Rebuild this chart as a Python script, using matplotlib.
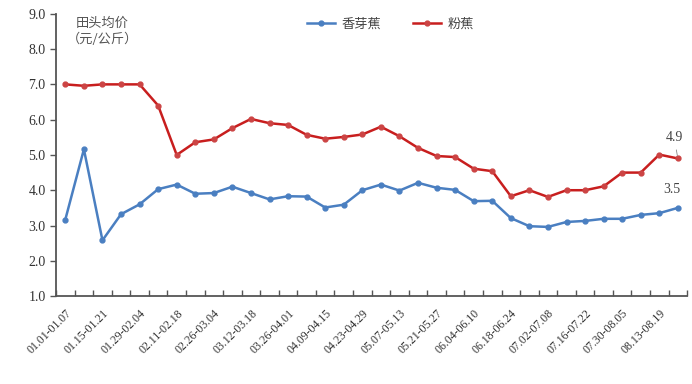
import numpy as np
import matplotlib.pyplot as plt

plt.rcParams['font.family'] = ['Liberation Serif', 'Noto Sans CJK SC']

# 34 weekly points, only every other week is labelled on the axis
week_labels = ['01.01-01.07', '01.15-01.21', '01.29-02.04', '02.11-02.18', '02.26-03.04',
               '03.12-03.18', '03.26-04.01', '04.09-04.15', '04.23-04.29', '05.07-05.13',
               '05.21-05.27', '06.04-06.10', '06.18-06.24', '07.02-07.08', '07.16-07.22',
               '07.30-08.05', '08.13-08.19']

xiangya = [3.17, 5.16, 2.58, 3.32, 3.60, 4.03, 4.16, 3.90, 3.92, 4.10, 3.92, 3.74,
           3.83, 3.82, 3.51, 3.59, 4.00, 4.16, 3.99, 4.21, 4.07, 4.01, 3.69, 3.70,
           3.21, 2.98, 2.96, 3.10, 3.13, 3.19, 3.19, 3.30, 3.35, 3.50]
fenjiao = [7.00, 6.96, 7.00, 7.00, 7.00, 6.40, 5.00, 5.36, 5.44, 5.76, 6.02, 5.90,
           5.85, 5.57, 5.46, 5.51, 5.58, 5.80, 5.53, 5.20, 4.97, 4.94, 4.61, 4.54,
           3.83, 4.00, 3.81, 4.00, 4.00, 4.11, 4.50, 4.50, 5.01, 4.90]

BLUE = '#4a7fc1'
RED = '#c81e1e'

fig = plt.figure(figsize=(6.92, 3.84), dpi=100)
ax = fig.add_axes([0.081, 0.229, 0.912, 0.735])

x = np.arange(len(xiangya))
ax.plot(x, xiangya, color=BLUE, lw=1.8, marker='o', ms=3.5, label='香芽蕉')
ax.plot(x, fenjiao, color=RED, lw=1.8, marker='o', ms=3.5, mfc='#cc4444', mec='#cc4444', label='粉蕉')

ax.set_xlim(-0.5, len(x) - 0.5)
ax.set_ylim(1.0, 9.0)
ax.set_yticks(np.arange(1.0, 9.01, 1.0))
ax.set_yticklabels([f'{v:.1f}' for v in np.arange(1.0, 9.01, 1.0)], fontsize=10, color='#333333')

ax.set_xticks(x[::2])
ax.set_xticklabels(week_labels, rotation=45, ha='right', rotation_mode='anchor',
                   fontsize=8.5, color='#333333')
ax.set_xticks(np.arange(-0.5, len(x), 1.0), minor=True)
ax.tick_params(axis='x', which='major', length=0, pad=8)
ax.tick_params(axis='x', which='minor', length=4, width=1, color='#555555', direction='in')
ax.tick_params(axis='y', length=4, width=1, color='#555555', direction='out')

for s in ['top', 'right']:
    ax.spines[s].set_visible(False)
for s in ['left', 'bottom']:
    ax.spines[s].set_color('#555555')
    ax.spines[s].set_linewidth(1.3)

ax.text(2.0, 8.72, '田头均价', ha='center', va='center', fontsize=9.5, color='#555555',
        family=['Noto Sans CJK SC'])
ax.text(2.0, 8.27, '（元/公斤）', ha='center', va='center', fontsize=9.5, color='#555555',
        family=['Noto Sans CJK SC'])

leg = ax.legend(loc='upper center', bbox_to_anchor=(0.53, 1.03), ncol=2, frameon=False,
                prop={'family': 'Noto Sans CJK SC', 'size': 9.5}, handlelength=2.1,
                handletextpad=0.5, columnspacing=2.4)
for t in leg.get_texts():
    t.set_color('#444444')

ax.annotate(f'{fenjiao[-1]:.1f}', xy=(x[-1], fenjiao[-1]), xytext=(x[-1] - 0.2, fenjiao[-1] + 0.4),
            ha='center', va='bottom', fontsize=10, color='#444444',
            arrowprops=dict(arrowstyle='-', color='#888888', lw=0.6))
ax.text(x[-1] - 0.3, xiangya[-1] + 0.33, f'{xiangya[-1]:.1f}', ha='center', va='bottom',
        fontsize=10, color='#444444')

fig.savefig('out.png', dpi=100)
